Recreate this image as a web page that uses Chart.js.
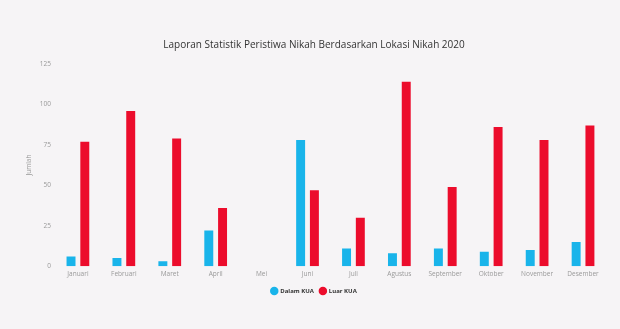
<!DOCTYPE html>
<html>
  <head>
    <title>Laporan Nikah 2020</title>
    <script src="https://cdn.jsdelivr.net/npm/chart.js"></script>
    <style>
      body { margin: 0; background: #f6f4f6; }
      #wrap { width: 620px; height: 329px; }
    </style>
  </head>
  <body>
    <div id="wrap"><canvas id="grafikNikah" width="620" height="329"></canvas></div>

    <script>
      // data
      const bulan = ["Januari", "Februari", "Maret", "April", "Mei", "Juni", "Juli", "Agustus", "September", "Oktober", "November", "Desember"];
      const dalamKUA = [6, 5, 3, 22, 0, 78, 11, 8, 11, 9, 10, 15];
      const luarKUA = [77, 96, 79, 36, 0, 47, 30, 114, 49, 86, 78, 87];
      const tickY = [0, 25, 50, 75, 100, 125];

      const config = {
        type: "bar",
        data: {
          labels: bulan,
          datasets: [
            {
              label: "Dalam KUA",
              data: dalamKUA,
              backgroundColor: "#19b4ea",
              barPercentage: 0.65,
              categoryPercentage: 0.6,
            },
            {
              label: "Luar KUA",
              data: luarKUA,
              backgroundColor: "#ec0c2c",
              barPercentage: 0.65,
              categoryPercentage: 0.6,
            },
          ],
        },
        options: {
          responsive: false,
          animation: false,
          layout: { padding: { top: 39, left: 22, right: 14, bottom: 25 } },
          plugins: {
            title: {
              display: true,
              text: "Laporan Statistik Peristiwa Nikah Berdasarkan Lokasi Nikah 2020",
              color: "#333",
              font: { family: "Open Sans", size: 10, weight: "normal" },
              padding: { top: 0, bottom: 13 },
            },
            legend: {
              position: "bottom",
              labels: {
                usePointStyle: true,
                pointStyle: "circle",
                boxWidth: 6,
                boxHeight: 6,
                color: "#333",
                font: { family: "Open Sans", size: 6, weight: "bold" },
                padding: 6,
              },
            },
            tooltip: { enabled: false },
          },
          scales: {
            x: {
              grid: { display: false, drawTicks: false },
              border: { display: false },
              ticks: { color: "#999", padding: 4, font: { family: "Open Sans", size: 6.5 } },
            },
            y: {
              min: 0,
              max: 125,
              afterBuildTicks: (ax) => { ax.ticks = tickY.map((v) => ({ value: v })); },
              grid: { display: false, drawTicks: false },
              border: { display: false },
              ticks: { color: "#999", padding: 4, font: { family: "Open Sans", size: 6.5 } },
              title: {
                display: true,
                text: "Jumlah",
                color: "#999",
                padding: 3,
                font: { family: "Open Sans", size: 6.5 },
              },
            },
          },
        },
      };

      let grafik = new Chart(document.getElementById("grafikNikah"), config);
    </script>
  </body>
</html>
